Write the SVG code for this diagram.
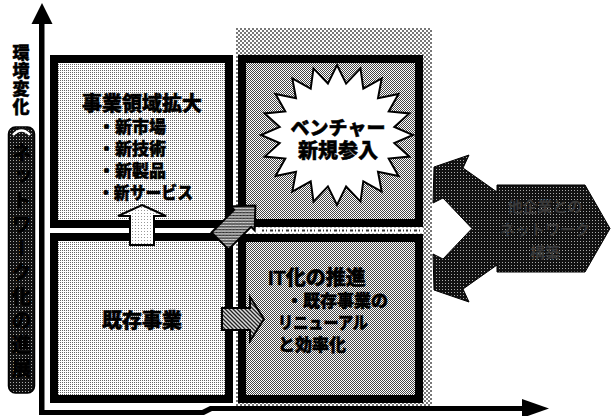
<svg xmlns="http://www.w3.org/2000/svg" width="611" height="416" viewBox="0 0 611 416">
<style>
.t{font-family:"Liberation Sans","Noto Sans CJK JP","Noto Sans CJK SC",sans-serif;font-weight:900;fill:#000;stroke:#000;stroke-width:0.5}
.v{font-family:"Noto Sans CJK JP","Noto Sans CJK SC",sans-serif;font-weight:900;fill:#000;writing-mode:vertical-rl}
.h{font-family:"Liberation Sans","Noto Sans CJK JP","Noto Sans CJK SC",sans-serif;font-weight:700;fill:#3a3a3a;text-anchor:middle;font-size:15px}
.box{stroke:#000;stroke-width:8}
.arr{stroke:#000;stroke-width:2;stroke-linejoin:miter}
</style>
<defs>
<pattern id="lt" width="2" height="2" patternUnits="userSpaceOnUse"><rect width="2" height="2" fill="#fff"/><rect width="1" height="1" fill="#666"/></pattern>
<pattern id="md" width="2" height="2" patternUnits="userSpaceOnUse"><rect width="2" height="2" fill="#fff"/><rect width="1" height="1" fill="#444"/><rect x="1" y="1" width="1" height="1" fill="#444"/></pattern>
<pattern id="bg" width="4" height="4" patternUnits="userSpaceOnUse"><rect width="4" height="4" fill="#fff"/><rect width="2" height="2" fill="#777"/><rect x="2" y="2" width="2" height="2" fill="#777"/></pattern>
<pattern id="vl" width="3" height="3" patternUnits="userSpaceOnUse"><rect width="3" height="3" fill="#fff"/><rect width="1" height="1" fill="#999"/></pattern>
<pattern id="ht" width="4" height="4" patternUnits="userSpaceOnUse"><rect width="4" height="4" fill="#ddd"/><path d="M-1,-1 L5,5 M3,-1 L5,1 M-1,3 L1,5" stroke="#222" stroke-width="1.3"/></pattern>
<pattern id="dk" width="3" height="3" patternUnits="userSpaceOnUse"><rect width="3" height="3" fill="#111"/><rect x="1" y="1" width="1" height="1" fill="#aaa"/></pattern>
</defs>
<rect width="611" height="416" fill="#fff"/>
<rect x="236" y="28" width="196" height="378" fill="url(#bg)"/>

<g id="node-tl">
<rect class="box" x="54" y="59" width="175" height="165" fill="url(#lt)"/>
<text class="t" x="142" y="111" font-size="20" text-anchor="middle">事業領域拡大</text>
<text class="t" x="98" y="132.5" font-size="17">・新市場</text>
<text class="t" x="98" y="154.5" font-size="17">・新技術</text>
<text class="t" x="98" y="176.5" font-size="17">・新製品</text>
<text class="t" x="98" y="198.5" font-size="17" textLength="95" lengthAdjust="spacingAndGlyphs">・新サービス</text>
</g>

<g id="node-bl">
<rect class="box" x="54" y="237" width="175" height="162" fill="url(#lt)"/>
<text class="t" x="142" y="327.5" font-size="20" text-anchor="middle">既存事業</text>
</g>

<g id="node-tr">
<rect class="box" x="242" y="59" width="177" height="164" fill="url(#md)"/>
<polygon fill="#fff" stroke="#000" stroke-width="2" points="337,65 346.1,83.6 360.5,68.4 363.3,88.7 381.7,78.4 378,98.2 398.5,93.9 388.7,111.4 409.3,113.4 394.3,126.9 413,135 394.3,143.1 409.3,156.6 388.7,158.6 398.5,176.1 378,171.8 381.7,191.6 363.3,181.3 360.5,201.6 346.1,186.4 337,205 327.9,186.4 313.5,201.6 310.7,181.3 292.3,191.6 296,171.8 275.5,176.1 285.3,158.6 264.7,156.6 279.7,143.1 261,135 279.7,126.9 264.7,113.4 285.3,111.4 275.5,93.9 296,98.2 292.3,78.4 310.7,88.7 313.5,68.4 327.9,83.6"/>
<text class="t" x="338" y="135" font-size="19" text-anchor="middle">ベンチャー</text>
<text class="t" x="338" y="157.5" font-size="20" text-anchor="middle">新規参入</text>
</g>

<g id="node-br">
<rect class="box" x="242" y="238" width="177" height="161" fill="url(#md)"/>
<text class="t" x="268" y="284.5" font-size="20">IT化の推進</text>
<text class="t" x="286" y="306.5" font-size="17">・既存事業の</text>
<text class="t" x="278" y="328.5" font-size="17" textLength="90" lengthAdjust="spacingAndGlyphs">リニューアル</text>
<text class="t" x="278" y="350.5" font-size="17">と効率化</text>
</g>

<rect x="238" y="227.5" width="185" height="6" fill="#fff"/>
<line x1="262" y1="230.5" x2="421" y2="230.5" stroke="#333" stroke-width="2" stroke-dasharray="2 2 1 3 3 2 1 2"/>

<g id="node-env">
<text class="v" x="21" y="44" font-size="17" letter-spacing="1" stroke="#000" stroke-width="0.5">環境変化</text>
<rect x="8.5" y="127" width="26" height="266" rx="7" fill="url(#dk)" stroke="#000" stroke-width="1.5"/>
<path d="M13,135 Q21.5,126 30,135" fill="none" stroke="#fff" stroke-width="2.5"/>
<text class="v" x="21.5" y="142" font-size="20" letter-spacing="4">ネットワーク化の進展</text>
</g>

<g id="node-network">
<polygon fill="url(#dk)" stroke="#000" stroke-width="1" points="434,167 469,155 463,168 497,192 497,185 585,185 610,228.5 585,272 497,272 497,265 463,289 469,302 434,290 433,254 443,259 472,228.5 443,198 433,203"/>
<text class="h" x="545" y="212">他企業との</text>
<text class="h" x="545" y="235">ネットワーク</text>
<text class="h" x="545" y="258">構築</text>
</g>

<g id="connectors">
<rect x="39" y="22" width="5.5" height="393" fill="#000"/>
<polygon points="42,3 52.5,24 31.5,24" fill="#000"/>
<path d="M39,410 L202,410 L210,406 L525,406 L525,411 L212,411 L204,415 L39,415 Z" fill="#000"/>
<polygon points="522,399 549,408.5 522,418" fill="#000"/>
<polygon class="arr" fill="url(#vl)" points="142,205 166,216 154,216 154,245 130,245 130,216 118,216"/>
<polygon class="arr" fill="url(#ht)" transform="translate(237,224) rotate(-45)" points="-24,-12 8,-12 8,-17 26,0 8,17 8,12 -24,12"/>
<polygon class="arr" fill="url(#ht)" points="222,308 250,308 250,297 264,319 250,341 250,330 222,330"/>
</g>
</svg>
